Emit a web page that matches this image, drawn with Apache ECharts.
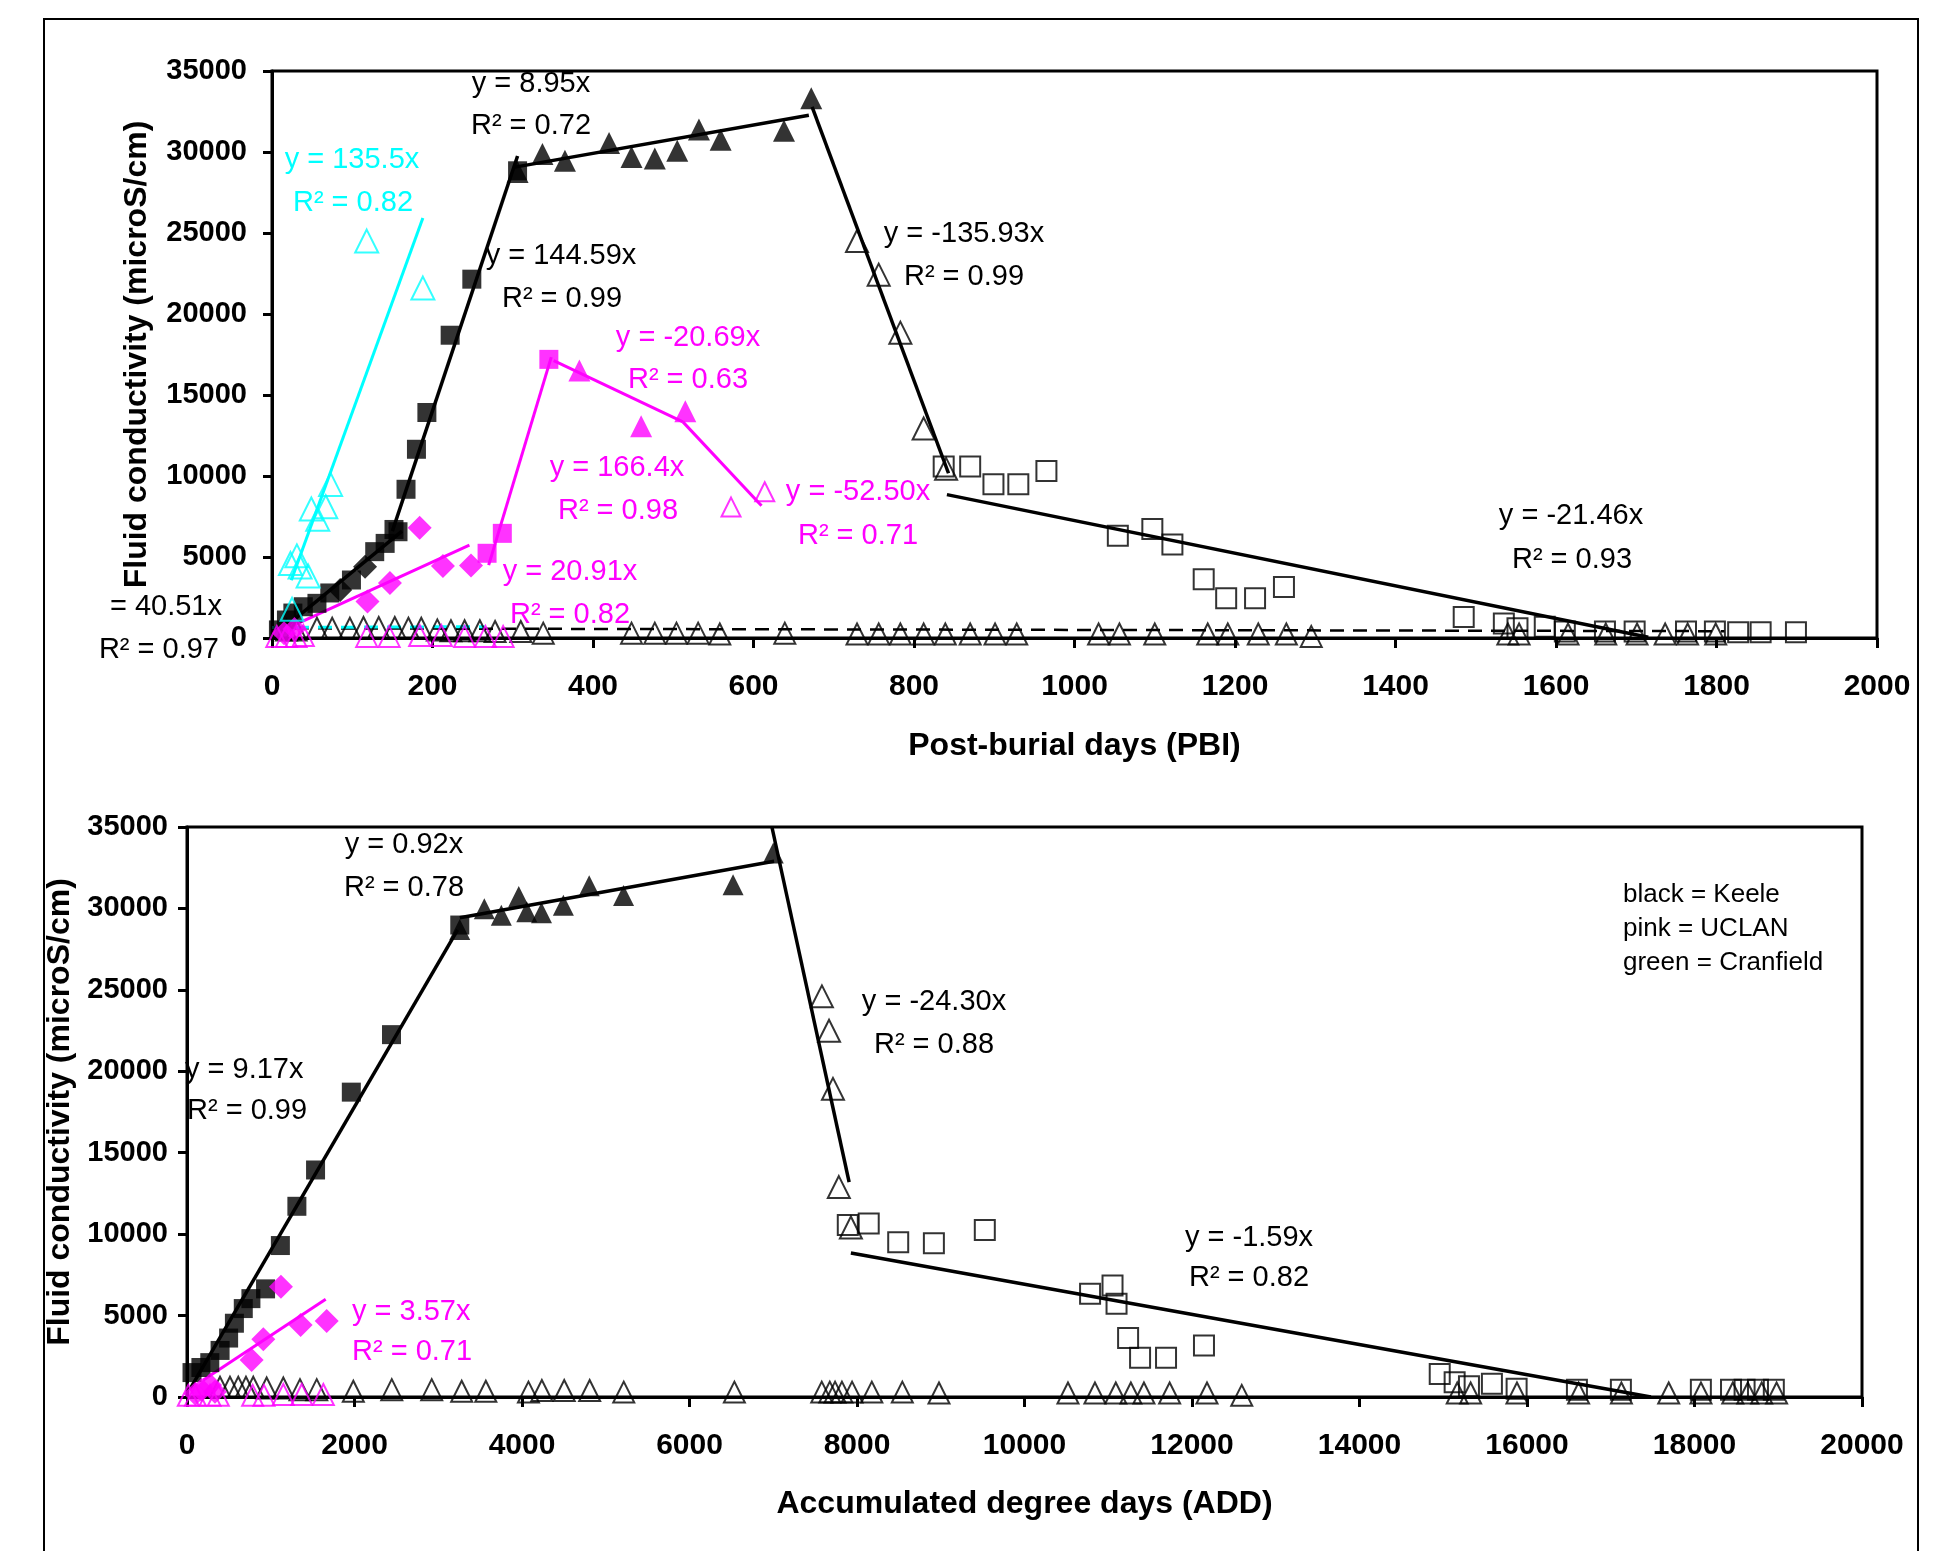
<!DOCTYPE html>
<html>
<head>
<meta charset="utf-8">
<script src="https://cdn.jsdelivr.net/npm/echarts@6/dist/echarts.min.js"></script>
<style>
  html, body { margin: 0; padding: 0; background: #fff; }
  #chart { width: 1955px; height: 1551px; }
</style>
</head>
<body>
<div id="chart"></div>
<script>
// ---- Post-burial days (top panel) ----
const pbiKeeleRise = [[8,500],[18,1110],[26,1540],[39,1930],[56,2140],[72,2780],[99,3580],[128,5330],[141,5840],[152,6700],[157,6560],[167,9180],[180,11650],[193,13920],[222,18690],[249,22150],[306,28840]];
const pbiKeeleDiamond = [[85,2960],[116,4400]];
const pbiKeelePlateau = [[306,28770],[337,29880],[365,29460],[420,30560],[448,29690],[477,29600],[505,30070],[532,31390],[559,30760],[638,31310],[672,33320]];
const pbiKeeleDecline = [[729,24500],[756,22430],[783,18850],[812,12930],[840,10440]];
const pbiKeeleLate = [[837,10590],[870,10590],[899,9490],[930,9490],[965,10310],[1054,6310],[1097,6730],[1122,5770],[1161,3620],[1189,2460],[1225,2460],[1261,3150],[1485,1300],[1535,900],[1552,600],[1586,700],[1611,400],[1661,400],[1698,400],[1762,400],[1798,400],[1827,350],[1855,350],[1899,350]];
const pbiKeeleBase = [[18,500],[30,500],[56,600],[75,600],[97,600],[114,650],[133,650],[153,650],[170,600],[186,600],[206,500],[223,450],[240,450],[259,450],[278,400],[310,400],[338,300],[448,300],[477,300],[504,300],[531,300],[558,250],[639,300],[729,250],[756,250],[783,250],[812,250],[839,250],[870,250],[901,250],[928,250],[1030,250],[1056,250],[1100,250],[1166,250],[1191,250],[1229,250],[1264,250],[1295,100],[1540,250],[1554,250],[1615,250],[1662,250],[1701,250],[1736,250],[1764,250],[1799,250]];
const pbiUclanDiamond = [[15,300],[28,550],[119,2250],[147,3400],[184,6800],[213,4450],[248,4480]];
const pbiUclanSquare = [[268,5230],[287,6460],[345,17200]];
const pbiUclanTri = [[383,16510],[460,13070],[515,14000]];
const pbiUclanOpen = [[572,8080],[614,9030]];
const pbiUclanBase = [[6,100],[18,100],[30,100],[39,150],[118,100],[146,100],[184,150],[211,150],[240,100],[266,100],[288,100]];
const pbiCranOpen = [[23,4600],[25,1770],[31,5070],[35,4380],[45,3830],[49,7960],[57,7330],[67,8100],[73,9480],[118,24500],[188,21600]];

const pbiBlackFits = [[[12,500],[162,6600]], [[150,6600],[306,29750]], [[301,29050],[669,32270]], [[673,32780],[843,10170]], [[841,8850],[1715,50]]];
const pbiBlackDashed = [[0,600],[1810,420]];
const pbiPinkFits = [[[14,490],[246,5740]], [[270,4500],[348,17340]], [[351,17120],[512,13340]], [[512,13340],[610,8160]]];
const pbiCyanFit = [[24,3560],[188,25930]];
const pbiCyanDashed = [[0,650],[265,700]];

// ---- Accumulated degree days (bottom panel) ----
const addKeeleRise = [[60,1500],[166,1810],[272,2110],[395,2860],[497,3620],[566,4530],[672,5430],[763,6040],[938,6640],[1115,9300],[1312,11710],[1535,13940],[1962,18720],[2442,22250],[3257,28980]];
const addKeelePlateau = [[3257,28700],[3550,29980],[3753,29580],[3961,30730],[4057,29790],[4233,29730],[4494,30190],[4802,31400],[5213,30800],[6520,31460],[7000,33410]];
const addKeeleDecline = [[7581,24600],[7666,22490],[7713,18920],[7783,12890],[7927,10410]];
const addKeeleLate = [[7890,10560],[8140,10650],[8492,9500],[8918,9440],[9526,10260],[10783,6340],[11051,6850],[11099,5730],[11237,3620],[11380,2410],[11690,2410],[12143,3160],[14958,1410],[15136,900],[15307,660],[15581,810],[15876,510],[16596,450],[17121,450],[18076,450],[18436,450],[18598,450],[18758,450],[18947,450]];
const addKeeleBase = [[394,600],[513,600],[612,600],[704,600],[791,600],[951,550],[1150,550],[1349,450],[1549,450],[1986,350],[2445,450],[2922,450],[3280,350],[3568,350],[4077,300],[4237,400],[4504,400],[4808,400],[5215,300],[6536,300],[7579,300],[7675,300],[7738,300],[7820,300],[7941,300],[8177,300],[8541,300],[8979,250],[10519,250],[10841,250],[11090,250],[11270,250],[11426,250],[11733,250],[12179,250],[12594,100],[15167,250],[15327,250],[15880,250],[16616,250],[17127,250],[17692,250],[18077,250],[18457,250],[18636,250],[18802,250],[18980,250]];
const addUclanDiamond = [[100,200],[175,430],[275,740],[334,330],[772,2270],[911,3540],[1122,6770],[1357,4420],[1668,4670]];
const addUclanBase = [[16,100],[100,100],[275,100],[374,100],[784,100],[919,100],[1150,150],[1370,150],[1628,150]];

const addBlackFits = [[[32,450],[3231,28680]], [[3257,29430],[7010,32900]], [[6984,35000],[7906,13190]], [[7927,8840],[17480,0]]];
const addPinkFit = [[195,1040],[1656,6000]];

// equation labels: [text, x, y, colour, align]
const pbiLabels = [
  ['y = 8.95x', 531, 84, 'k'], ['R² = 0.72', 531, 126, 'k'],
  ['y = 135.5x', 352, 160, 'c'], ['R² = 0.82', 353, 203, 'c'],
  ['y = 144.59x', 561, 256, 'k'], ['R² = 0.99', 562, 299, 'k'],
  ['y = -135.93x', 964, 234, 'k'], ['R² = 0.99', 964, 277, 'k'],
  ['y = -20.69x', 688, 338, 'm'], ['R² = 0.63', 688, 380, 'm'],
  ['y = 166.4x', 617, 468, 'm'], ['R² = 0.98', 618, 511, 'm'],
  ['y = -52.50x', 858, 492, 'm'], ['R² = 0.71', 858, 536, 'm'],
  ['y = 20.91x', 570, 572, 'm'], ['R² = 0.82', 570, 615, 'm'],
  ['y = -21.46x', 1571, 516, 'k'], ['R² = 0.93', 1572, 560, 'k'],
  ['= 40.51x', 222, 607, 'k', 'right'], ['R² = 0.97', 219, 650, 'k', 'right']
];
const addLabels = [
  ['y = 0.92x', 404, 845, 'k'], ['R² = 0.78', 404, 888, 'k'],
  ['y = 9.17x', 185, 1070, 'k', 'left'], ['R² = 0.99', 187, 1111, 'k', 'left'],
  ['y = -24.30x', 934, 1002, 'k'], ['R² = 0.88', 934, 1045, 'k'],
  ['y = -1.59x', 1249, 1238, 'k'], ['R² = 0.82', 1249, 1278, 'k'],
  ['y = 3.57x', 352, 1312, 'm', 'left'], ['R² = 0.71', 352, 1352, 'm', 'left']
];
const legendLines = ['black = Keele', 'pink = UCLAN', 'green = Cranfield'];

const FONT = '"Liberation Sans", Arial, sans-serif';
const COL = { k: '#000000', m: '#ff00ff', c: '#00ffff' };

const chart = echarts.init(document.getElementById('chart'));

function pts(gi, data, symbol, size, color, hollow) {
    return {
        type: 'scatter', xAxisIndex: gi, yAxisIndex: gi, data: data,
        symbol: symbol, symbolSize: size, silent: true, z: 3,
        itemStyle: hollow
            ? { color: 'transparent', borderColor: color, borderWidth: 2 }
            : { color: color }
    };
}

function seg(gi, data, color, width, dashed) {
    return {
        type: 'line', xAxisIndex: gi, yAxisIndex: gi, data: data,
        showSymbol: false, symbol: 'none', silent: true, z: 2,
        lineStyle: { color: color, width: width, type: dashed ? [14, 9] : 'solid' }
    };
}

function label(l) {
    return {
        type: 'text', x: l[1], y: l[2], z: 10,
        style: {
            text: l[0], fill: COL[l[3]], font: '29px ' + FONT,
            align: l[4] || 'center', verticalAlign: 'middle'
        }
    };
}

const plain = v => String(v);

function xAx(gi, max, step, name, gap) {
    return {
        gridIndex: gi, type: 'value', min: 0, max: max, interval: step,
        name: name, nameLocation: 'middle', nameGap: gap,
        nameTextStyle: { fontFamily: FONT, fontWeight: 'bold', fontSize: 32, color: '#000' },
        axisLine: { onZero: false, lineStyle: { color: '#000', width: 3 } },
        axisTick: { length: 10, lineStyle: { color: '#000', width: 3 } },
        axisLabel: { margin: 34, formatter: plain, fontFamily: FONT, fontWeight: 'bold', fontSize: 30, color: '#000' },
        splitLine: { show: false }
    };
}

function yAx(gi, gap, margin) {
    return {
        gridIndex: gi, type: 'value', min: 0, max: 35000, interval: 5000,
        name: 'Fluid conductivity (microS/cm)', nameLocation: 'middle', nameGap: gap,
        nameTextStyle: { fontFamily: FONT, fontWeight: 'bold', fontSize: 32, color: '#000' },
        axisLine: { onZero: false, lineStyle: { color: '#000', width: 3 } },
        axisTick: { length: 9, lineStyle: { color: '#000', width: 3 } },
        axisLabel: { margin: margin, formatter: plain, fontFamily: FONT, fontWeight: 'bold', fontSize: 29, color: '#000' },
        splitLine: { show: false }
    };
}

const series = [];
// top panel
pbiBlackFits.forEach(s => series.push(seg(0, s, COL.k, 3.5)));
series.push(seg(0, pbiBlackDashed, COL.k, 2.5, true));
pbiPinkFits.forEach(s => series.push(seg(0, s, COL.m, 3)));
series.push(seg(0, pbiCyanFit, COL.c, 3));
series.push(seg(0, pbiCyanDashed, COL.c, 3, true));
series.push(pts(0, pbiKeeleRise, 'rect', 19, COL.k));
series.push(pts(0, pbiKeeleDiamond, 'diamond', 24, COL.k));
series.push(pts(0, pbiKeelePlateau, 'triangle', 22, COL.k));
series.push(pts(0, pbiKeeleDecline, 'triangle', 22, COL.k, true));
series.push(pts(0, pbiKeeleLate, 'rect', 20, COL.k, true));
series.push(pts(0, pbiKeeleBase, 'triangle', 21, COL.k, true));
series.push(pts(0, pbiUclanDiamond, 'diamond', 24, COL.m));
series.push(pts(0, pbiUclanSquare, 'rect', 19, COL.m));
series.push(pts(0, pbiUclanTri, 'triangle', 22, COL.m));
series.push(pts(0, pbiUclanOpen, 'triangle', 19, COL.m, true));
series.push(pts(0, pbiUclanBase, 'triangle', 21, COL.m, true));
series.push(pts(0, pbiCranOpen, 'triangle', 23, COL.c, true));
// bottom panel
addBlackFits.forEach(s => series.push(seg(1, s, COL.k, 3.5)));
series.push(seg(1, addPinkFit, COL.m, 3));
series.push(pts(1, addKeeleRise, 'rect', 19, COL.k));
series.push(pts(1, addKeelePlateau, 'triangle', 21, COL.k));
series.push(pts(1, addKeeleDecline, 'triangle', 22, COL.k, true));
series.push(pts(1, addKeeleLate, 'rect', 20, COL.k, true));
series.push(pts(1, addKeeleBase, 'triangle', 21, COL.k, true));
series.push(pts(1, addUclanDiamond, 'diamond', 24, COL.m));
series.push(pts(1, addUclanBase, 'triangle', 21, COL.m, true));

const graphic = [
    { type: 'rect', shape: { x: 44, y: 19, width: 1874, height: 1600 }, z: 0,
      style: { fill: 'none', stroke: '#000', lineWidth: 2 } }
];
pbiLabels.concat(addLabels).forEach(l => graphic.push(label(l)));
legendLines.forEach((t, i) => graphic.push({
    type: 'text', x: 1623, y: 895 + i * 34, z: 10,
    style: { text: t, fill: '#000', font: '26px ' + FONT, align: 'left', verticalAlign: 'middle' }
}));

chart.setOption({
    backgroundColor: '#fff',
    animation: false,
    grid: [
        { left: 272, top: 71, width: 1605, height: 567, show: true, borderColor: '#000', borderWidth: 3 },
        { left: 187, top: 827, width: 1675, height: 570, show: true, borderColor: '#000', borderWidth: 3 }
    ],
    xAxis: [
        xAx(0, 2000, 200, 'Post-burial days (PBI)', 92),
        xAx(1, 20000, 2000, 'Accumulated degree days (ADD)', 91)
    ],
    yAxis: [yAx(0, 119, 25), yAx(1, 81, 19)],
    series: series,
    graphic: graphic
});
</script>
</body>
</html>
